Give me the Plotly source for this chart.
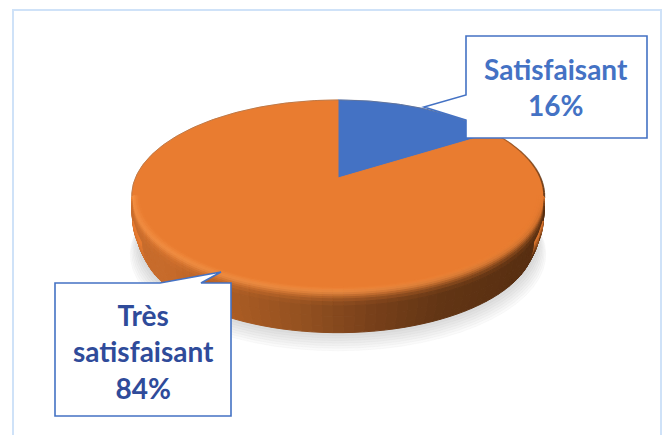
import math
import plotly.graph_objects as go

labels = ["Satisfaisant", "Très satisfaisant"]
values = [16, 84]
slice_colors = ["#4472C4", "#E97C30"]

W, H = 669, 435
CX, CY = 338, 178
A, B, K = 202.6, 92.6, 0.187


def project(phi_deg, r=1.0, dy=0.0):
    p = math.radians(phi_deg)
    u, v = r * math.sin(p), r * math.cos(p)
    w = 1 + K * v
    return CX + A * u / w, CY - B * v / w + dy


def rgb(c):
    return "rgb(%d,%d,%d)" % tuple(round(x) for x in c)


def mix(a, b, t):
    return tuple(a[i] + (b[i] - a[i]) * t for i in range(3))


TOP = (233, 124, 48)
HILITE = (245, 145, 68)
STOPS = [(0.0, (200, 108, 44)), (0.1, (198, 106, 42)), (0.2, (176, 94, 36)), (0.42, (146, 80, 32)),
         (0.58, (120, 64, 26)), (0.75, (98, 53, 20)), (1.0, (86, 45, 16))]


def side_color(x):
    t = max(0, min(1, (x - 132) / 413))
    for (a, ca), (b, cb) in zip(STOPS, STOPS[1:]):
        if t <= b:
            return mix(ca, cb, (t - a) / (b - a))
    return STOPS[-1][1]


fig = go.Figure()


def poly(xs, ys, color):
    fig.add_trace(go.Scatter(x=xs, y=ys, mode="lines", fill="toself", fillcolor=color,
                             line=dict(color=color, width=1), hoverinfo="skip", showlegend=False))


# soft shadow
for i in range(8):
    pts = [project(a, 0.965 + 0.006 * (7 - i), 46 + (7 - i) * 1.7) for a in range(0, 361, 5)]
    poly([p[0] for p in pts], [p[1] for p in pts], "rgba(90,90,90,0.032)")

# slices on top, drawn from the values
total = sum(values)
start = 0.0
for val, col in zip(values, slice_colors):
    end = start + 360 * val / total
    n = max(2, int(end - start))
    pts = [project(start + (end - start) * i / n) for i in range(n + 1)]
    poly([CX] + [p[0] for p in pts] + [CX], [CY] + [p[1] for p in pts] + [CY], col)
    start = end

# thin rim along the back edge, darkening only on the right side
for a in range(-102, 102, 3):
    s = a + 1.5
    if s > 55:
        t = (s - 55) / 47
        col, wd = "rgba(90,50,20,%.2f)" % (0.35 + 0.55 * t), 1 + t
    else:
        col, wd = "rgba(130,115,100,0.42)", 1
    p, q = project(a), project(a + 3)
    fig.add_trace(go.Scatter(x=[p[0], q[0]], y=[p[1], q[1]], mode="lines", line=dict(color=col, width=wd),
                             hoverinfo="skip", showlegend=False))

# wall and bevel of the disc: (radius, offset, weight towards wall colour, highlight)
PROFILE = [(0.965, 0, 0.0, 0.0), (0.975, 0, 0.0, 0.2), (0.985, 0, 0.03, 0.5), (0.993, 0, 0.08, 0.85),
           (1.0, 1, 0.16, 1.0), (1.0, 3, 0.3, 0.8), (1.0, 5, 0.5, 0.5), (1.0, 7, 0.68, 0.3),
           (1.0, 10, 0.85, 0.1), (1.0, 14, 1.0, 0.0), (0.995, 25, 1.0, 0.0), (0.975, 38, 1.0, 0.0),
           (0.955, 47, 1.0, 0.0)]
SEG = 2.5
ext = math.degrees(math.asin(K))
a0, a1 = 90 + ext, 270 - ext
nseg = int((a1 - a0) / SEG)
step = (a1 - a0) / nseg
for (r0, d0, w0, h0), (r1, d1, w1, h1) in zip(PROFILE, PROFILE[1:]):
    for i in range(nseg):
        a, b = a0 + i * step, a0 + (i + 1) * step
        mid = (a + b) / 2
        xm = project(mid)[0]
        # highlight only on the left and front of the rim
        glow = max(0.0, min(1.0, 1 - (180 - mid) / 70)) if mid < 180 else 1.0
        wall = side_color(xm)
        wm, hm = (w0 + w1) / 2, (h0 + h1) / 2
        edge = min(1.0, (mid - a0) / 12, (a1 - mid) / 12)
        base = mix(TOP, HILITE, hm * glow)
        col = mix(base, wall, wm * (edge if r0 < 1 else 1))
        p = [project(a, r0, d0), project(b, r0, d0), project(b, r1, d1), project(a, r1, d1)]
        poly([q[0] for q in p] + [p[0][0]], [q[1] for q in p] + [p[0][1]], rgb(col))

BORDER = "#4472C4"
shapes = [
    dict(type="rect", xref="x", yref="y", x0=13, y0=10, x1=661, y1=438, layer="below",
         line=dict(color="#CFE2F8", width=2), fillcolor="white"),
    dict(type="path", xref="x", yref="y", layer="above", fillcolor="white",
         line=dict(color=BORDER, width=1.6),
         path="M466,36 L647,36 L647,138 L466,138 L466,120 L424,107 L466,95 Z"),
    dict(type="path", xref="x", yref="y", layer="above", fillcolor="white",
         line=dict(color=BORDER, width=1.6),
         path="M55,283 L160,283 L221,272 L201,283 L231,283 L231,416 L55,416 Z"),
]

F = "Lato, Carlito, 'Noto Sans', sans-serif"
annotations = [
    dict(x=556, y=87, xref="x", yref="y", showarrow=False, align="center",
         text="<b>%s<br>%d%%</b>" % (labels[0], values[0]),
         font=dict(family=F, size=28, color="#4472C4")),
    dict(x=143, y=351, xref="x", yref="y", showarrow=False, align="center",
         text="<b>Très<br>satisfaisant<br>%d%%</b>" % values[1],
         font=dict(family=F, size=28, color="#2F4B9A")),
]

fig.update_layout(
    width=W, height=H, margin=dict(l=0, r=0, t=0, b=0), paper_bgcolor="white", plot_bgcolor="white",
    xaxis=dict(range=[0, W], visible=False, fixedrange=True),
    yaxis=dict(range=[H, 0], visible=False, fixedrange=True),
    shapes=shapes, annotations=annotations, showlegend=False,
)
fig.write_html("out.html", config={"displayModeBar": False},
               post_script="document.body.style.margin='0';")
